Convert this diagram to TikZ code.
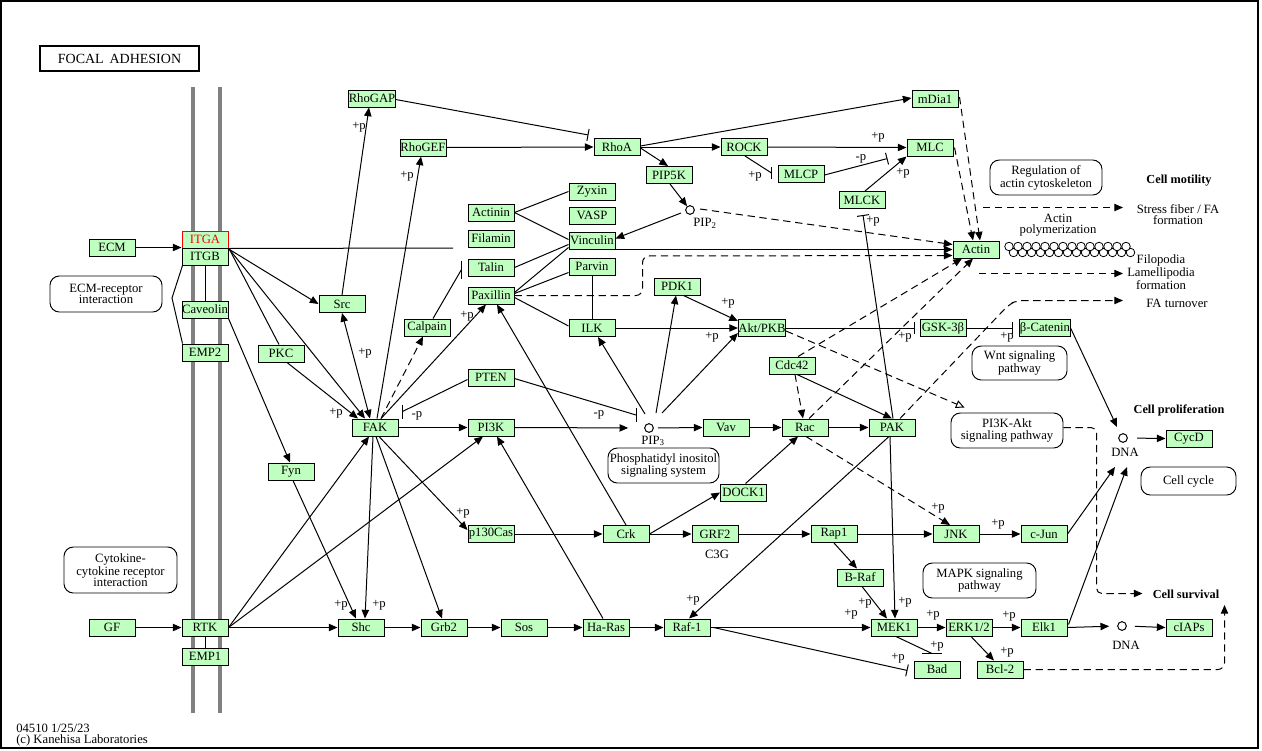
\documentclass[tikz,border=0pt]{standalone}
\usepackage{fontspec}
\setmainfont{Liberation Serif}
\usetikzlibrary{arrows.meta,calc}
\definecolor{kgreen}{RGB}{191,255,191}
\newcommand{\kf}{\fontsize{9.5}{8.4}\selectfont}
\newcommand{\kbf}{\fontsize{9.2}{8.4}\selectfont\bfseries}
\begin{document}
\begin{tikzpicture}[x=0.75pt,y=-0.75pt,
  g/.style={draw, line width=0.75pt, fill=kgreen, minimum width=34.5pt, minimum height=12.75pt, inner sep=0pt, font=\kf},
  pw/.style={draw, line width=0.7pt, rounded corners=7pt, align=center, font=\kf, inner sep=0pt},
  lab/.style={font=\kf, inner sep=0pt, align=center},
  blab/.style={font=\kbf, inner sep=0pt, align=center},
  cir/.style={draw, circle, line width=0.75pt, minimum size=6.5pt, inner sep=0pt},
  ln/.style={line width=0.75pt},
  ar/.style={ln, -{Triangle[length=6.5pt,width=5.5pt]}},
  inh/.style={ln, -{Bar[width=9pt, line width=0.75pt]}},
  barln/.style={line width=0.75pt},
  dsh/.style={dash pattern=on 5.5pt off 3.5pt},
]
\useasboundingbox (0,0) rectangle (1262,750);
\draw[line width=1.2pt] (1,1) rectangle (1258,748);
\node[draw, line width=1.5pt, minimum width=119pt, minimum height=18.5pt, inner sep=0pt, font=\fontsize{10.5}{11}\selectfont] (title) at (119.5,58.5) {FOCAL\, ADHESION};
% membrane
\draw[gray, line width=3pt] (193,87) -- (193,713);
\draw[gray, line width=3pt] (220,87) -- (220,713);

% pathway boxes
\node[pw, minimum width=84pt, minimum height=27pt] (ecmri) at (106,294) {ECM-receptor\\interaction};
\node[pw, minimum width=84.75pt, minimum height=34.5pt] (cyto) at (120.5,570) {Cytokine-\\cytokine receptor\\interaction};
\node[pw, minimum width=83.25pt, minimum height=26.25pt] (pis) at (663.5,465.5) {Phosphatidyl inositol\\signaling system};
\node[pw, minimum width=84pt, minimum height=26.25pt] (rac) at (1046,177.5) {Regulation of\\actin cytoskeleton};
\node[pw, minimum width=71.25pt, minimum height=25.5pt] (wnt) at (1019.5,363) {Wnt signaling\\pathway};
\node[pw, minimum width=84pt, minimum height=26.25pt] (pi3kakt) at (1007,430.5) {PI3K-Akt\\signaling pathway};
\node[pw, minimum width=71.25pt, minimum height=21pt] (ccyc) at (1188.5,481) {Cell cycle};
\node[pw, minimum width=84.75pt, minimum height=26.25pt] (mapk) at (979.5,580.5) {MAPK signaling\\pathway};

% genes
\node[g] (ECM) at (112,247.5) {ECM};
\node[g, draw=red, text=red] (ITGA) at (205,239.5) {ITGA};
\node[g] (ITGB) at (205,256.5) {ITGB};
\node[g] (Caveolin) at (205,309.5) {Caveolin};
\node[g] (EMP2) at (205,352.5) {EMP2};
\node[g] (PKC) at (281,353.5) {PKC};
\node[g] (Fyn) at (291,471.5) {Fyn};
\node[g] (Src) at (342,304) {Src};
\node[g] (RhoGAP) at (372,98.5) {RhoGAP};
\node[g] (RhoGEF) at (423,147.5) {RhoGEF};
\node[g] (Calpain) at (427,327.5) {Calpain};
\node[g] (FAK) at (375,427.5) {FAK};
\node[g] (Actinin) at (491,212.5) {Actinin};
\node[g] (Filamin) at (491,238.5) {Filamin};
\node[g] (Talin) at (491,267.5) {Talin};
\node[g] (Paxillin) at (491,295.5) {Paxillin};
\node[g] (PTEN) at (491,377.5) {PTEN};
\node[g] (PI3K) at (491,427.5) {PI3K};
\node[g] (Zyxin) at (592,191.5) {Zyxin};
\node[g] (VASP) at (592,215.5) {VASP};
\node[g] (Vinculin) at (592,240.5) {Vinculin};
\node[g] (Parvin) at (592,266.5) {Parvin};
\node[g] (ILK) at (592,328) {ILK};
\node[g] (RhoA) at (617,147) {RhoA};
\node[g] (PIP5K) at (669,175) {PIP5K};
\node[cir] (pip2) at (690,210) {};
\node[lab] (pip2l) at (705,223) {PIP\textsubscript{2}};
\node[g] (ROCK) at (744,147) {ROCK};
\node[g] (MLCP) at (801,174) {MLCP};
\node[g] (mDia1) at (935,99) {mDia1};
\node[g] (MLC) at (930,147.5) {MLC};
\node[g] (MLCK) at (862,200) {MLCK};
\node[g] (Actin) at (976,249.5) {Actin};
\node[g] (PDK1) at (677,286.5) {PDK1};
\node[g] (Akt) at (762,328) {Akt/PKB};
\node[g] (GSK) at (943,328) {GSK-3β};
\node[g] (bcat) at (1045,328) {β-Catenin};
\node[g] (Cdc42) at (792,365.5) {Cdc42};
\node[g] (Vav) at (726,427.5) {Vav};
\node[g] (Rac) at (805,427.5) {Rac};
\node[g] (PAK) at (892,427.5) {PAK};
\node[cir] (pip3) at (649,428) {};
\node[lab] (pip3l) at (653,441) {PIP\textsubscript{3}};
\node[g] (DOCK1) at (743.5,492.5) {DOCK1};
\node[g] (p130Cas) at (491,534) {p130Cas};
\node[g] (Crk) at (626,534) {Crk};
\node[g] (GRF2) at (715,534) {GRF2};
\node[lab] (c3g) at (717,554) {C3G};
\node[g] (Rap1) at (834,534) {Rap1};
\node[g] (JNK) at (956,534) {JNK};
\node[g] (cJun) at (1044,534) {c-Jun};
\node[g] (BRaf) at (860,577.5) {B-Raf};
\node[g] (GF) at (112,627.5) {GF};
\node[g] (RTK) at (205,627.5) {RTK};
\node[g] (EMP1) at (205,656.5) {EMP1};
\node[g] (Shc) at (361,627.5) {Shc};
\node[g] (Grb2) at (444,627.5) {Grb2};
\node[g] (Sos) at (524,627.5) {Sos};
\node[g] (HaRas) at (606,627.5) {Ha-Ras};
\node[g] (Raf1) at (687,627.5) {Raf-1};
\node[g] (MEK1) at (894,627.5) {MEK1};
\node[g] (ERK) at (969,627.5) {ERK1/2};
\node[g] (Elk1) at (1044,627.5) {Elk1};
\node[cir] (dna2) at (1122,626) {};
\node[lab] (dna2l) at (1126,645) {DNA};
\node[g] (cIAPs) at (1189,627.5) {cIAPs};
\node[g] (Bad) at (937,669.5) {Bad};
\node[g] (Bcl2) at (1000,669.5) {Bcl-2};
\node[cir] (dna1) at (1123,438) {};
\node[lab] (dna1l) at (1125,452) {DNA};
\node[g] (CycD) at (1189,438.5) {CycD};

% text labels
\node[blab] (cmot) at (1179,181) {Cell motility};
\node[lab] (sfib) at (1178,214.5) {Stress fiber / FA\\formation};
\node[lab] (apol) at (1058,225.5) {Actin\\polymerization};
\node[lab] (filo) at (1161,272) {Filopodia\\Lamellipodia\\formation};
\node[lab] (fat) at (1177,303) {FA turnover};
\node[blab] (cprol) at (1179,410) {Cell proliferation};
\node[blab] (csurv) at (1186,594) {Cell survival};
\node[lab, anchor=west] (ver) at (16,728) {04510 1/25/23};
\node[lab, anchor=west] (copy) at (16,740) {(c) Kanehisa Laboratories};

% actin filament
\foreach \i in {0,...,13} {\draw[line width=0.6pt, fill=white] (1013.5+9*\i,252.5) circle (3.2pt);}
\foreach \i in {0,...,13} {\draw[line width=0.6pt, fill=white] (1009+9*\i,246.5) circle (3.2pt);}

% phosphorylation labels
\node[lab] (p1) at (359,127) {+p};
\node[lab] (p2) at (407,176) {+p};
\node[lab] (p3) at (365,353) {+p};
\node[lab] (p4) at (336,413) {+p};
\node[lab] (p5) at (467,316) {+p};
\node[lab] (p6) at (417,416) {-p};
\node[lab] (p7) at (599,415) {-p};
\node[lab] (p8) at (878,137) {+p};
\node[lab] (p9) at (755,176) {+p};
\node[lab] (p10) at (861,159) {-p};
\node[lab] (p11) at (903,173) {+p};
\node[lab] (p12) at (873,221) {+p};
\node[lab] (p13) at (728,303) {+p};
\node[lab] (p14) at (712,337) {+p};
\node[lab] (p15) at (905,337) {+p};
\node[lab] (p16) at (1007,337) {+p};
\node[lab] (p17) at (463,513) {+p};
\node[lab] (p18) at (341,605) {+p};
\node[lab] (p19) at (379,605) {+p};
\node[lab] (p20) at (693,600) {+p};
\node[lab] (p21) at (865,603) {+p};
\node[lab] (p22) at (851,614) {+p};
\node[lab] (p23) at (905,602) {+p};
\node[lab] (p24) at (933,615) {+p};
\node[lab] (p25) at (1009,616) {+p};
\node[lab] (p26) at (898,658) {+p};
\node[lab] (p27) at (937,646) {+p};
\node[lab] (p28) at (1007,652) {+p};
\node[lab] (p29) at (938,508) {+p};
\node[lab] (p30) at (998,524) {+p};

% helper coordinates
\coordinate (itgbc) at ($(ITGB.north east)+(1,2)$);
\coordinate (itgaend) at (453,248);
\coordinate (brk) at (172,298);
\coordinate (talbar) at ($(Talin.west)+(-6,2)$);
\coordinate (fakbar) at ($(FAK.north east)+(4,-7)$);
\coordinate (pip3bar) at ($(pip3)+(-13,-13)$);
\coordinate (mlcpbar) at ($(MLCP.west)+(-6,-1)$);
\coordinate (badbar) at ($(Bad.north)+(-5,-7)$);
\coordinate (pxc) at (642.5,256);
\coordinate (sf0) at (983,207.5);
\coordinate (sf1) at (1123,207.5);
\coordinate (fl0) at (979,273.5);
\coordinate (fl1) at (1123,273.5);
\coordinate (fa1) at (1010,300.5);
\coordinate (fa2) at (1123,300.5);
\coordinate (cs1) at (1142.5,593.5);
\coordinate (cs2) at (1224.5,605);

% ---- connectors ----
\draw[ar] (ECM.east) -- (ECM.east -| ITGA.west);
\draw[ln] (ITGA.south east) -- (itgaend);
\draw[ln] (ITGB.south) -- (Caveolin.north);
\draw[ln] ($(ITGB.south west)+(1,0)$) -- (brk) -- ($(EMP2.north west)+(1,0)$);
\draw[ar] (itgbc) -- (Src.west);
\draw[ar] (itgbc) -- ($(FAK.north)+(-10,0)$);
\draw[ln] (itgbc) -- ($(PKC.north)+(-2,0)$);
\draw[ar] ($(PKC.south)+(6,0)$) -- ($(FAK.north)+(-17,0)$);
\draw[ln, {Triangle[length=6.5pt,width=5.5pt]}-{Triangle[length=6.5pt,width=5.5pt]}] (Src.south) -- ($(FAK.north)+(-5,0)$);
\draw[ar] (Src.north) -- ($(RhoGAP.south)+(-3,0)$);
\draw[ar] ($(FAK.north)+(2,0)$) -- ($(RhoGEF.south)+(-2,0)$);
\draw[ar, dsh] ($(FAK.north)+(6,0)$) -- ($(Calpain.south)+(-4,0)$);
\draw[ar] ($(FAK.north)+(6,0)$) -- ($(Paxillin.south)+(-5,0)$);
\draw[ln] ($(Calpain.north)+(6,0)$) -- (talbar);
\draw[barln] ($(talbar)+(0,-9)$) -- ($(talbar)+(0,9)$);
\draw[ln] ($(PTEN.west)+(0,2)$) -- (fakbar);
\draw[barln] ($(fakbar)+(0,-7)$) -- ($(fakbar)+(0,7)$);
\draw[ln] ($(PTEN.east)+(0,1)$) -- (pip3bar);
\draw[barln] ($(pip3bar)+(0,-7)$) -- ($(pip3bar)+(0,7)$);
\draw[ar] (FAK.east) -- (PI3K.west);
\draw[ar, shorten >=12pt] (PI3K.east) -- (pip3.west);
\draw[ar, shorten <=3pt] (pip3.east) -- (Vav.west);
\draw[ar] (Vav.east) -- (Rac.west);
\draw[ar] (Rac.east) -- (PAK.west);
\draw[ar] ($(pip3)+(-4,-14)$) -- ($(ILK.south)+(6,0)$);
\draw[ar] ($(pip3)+(7,-15)$) -- ($(PDK1.south)+(-1,0)$);
\draw[ar] ($(pip3)+(13,-15)$) -- ($(Akt.south west)+(0,-4)$);
\draw[ar] ($(PDK1.south east)+(-17,0)$) -- ($(Akt.north west)+(0,2)$);
\draw[ar] (ILK.east) -- (Akt.west);
\draw[inh, shorten >=3.5pt] (Akt.east) -- (GSK.west);
\draw[inh, shorten >=4.5pt] (GSK.east) -- (bcat.west);
\draw[ar] (bcat.east) -- ($(dna1)+(-6,-11)$);
\draw[ar, shorten <=7pt] (dna1.east) -- (CycD.west);
\draw[ln, dsh, -{Triangle[open, length=6.5pt, width=6pt]}] ($(Akt.east)+(0,3)$) -- ($(pi3kakt.north west)+(14,-5)$);
\draw[ar, dsh, rounded corners=4pt] ($(pi3kakt.east)+(0,-3)$) -| ($(cs1)+(-46,0)$) -- (cs1);

% Rho branch
\draw[ar] (RhoGEF.east) -- (RhoA.west);
\draw[inh] ($(RhoGAP.east)+(0,1)$) -- ($(RhoA.north west)+(-5,-3)$);
\draw[ar] (RhoA.east) -- (ROCK.west);
\draw[ar] ($(RhoA.east)+(0,-1)$) -- ($(mDia1.west)+(0,-1)$);
\draw[ar] ($(RhoA.east)+(0,1)$) -- ($(PIP5K.north)+(-1,0)$);
\draw[ar] ($(PIP5K.south)+(1,0)$) -- (pip2);
\draw[ar] ($(pip2)+(-9,3)$) -- ($(Vinculin.east)+(0,-2)$);
\draw[ar, dsh] ($(pip2)+(10,-1)$) -- ($(Actin.west)+(0,-5)$);
\draw[ar] (ROCK.east) -- (MLC.west);
\draw[ln] ($(ROCK.south)+(1,0)$) -- (mlcpbar);
\draw[barln] ($(mlcpbar)+(0,-6)$) -- ($(mlcpbar)+(0,6)$);
\draw[inh] ($(MLCP.east)+(0,1)$) -- ($(MLC.south west)+(-19,2)$);
\draw[ar] ($(MLCK.north)+(3,0)$) -- (MLC.south west);
\draw[inh] ($(PAK.north)+(1,0)$) -- ($(MLCK.south)+(1,6)$);
\draw[ar, dsh] ($(mDia1.east)+(1,-2)$) -- ($(Actin.north)+(4,0)$);
\draw[ar, dsh] ($(MLC.east)+(1,0)$) -- ($(Actin.north)+(-3,0)$);
\draw[ar] (Vinculin.south east) -- (Actin.west);
\draw[ar, dsh, rounded corners=5pt] (Paxillin.east) -| (pxc) -- ($(Actin.west)+(0,6)$);

% adhesion complex
\draw[ln] (Actinin.east) -- (Zyxin.west);
\draw[ln] (Actinin.east) -- ($(Vinculin.west)+(0,-1)$);
\draw[ln] (Talin.east) -- ($(Vinculin.south west)+(0,-5)$);
\draw[ln] ($(Paxillin.east)+(0,-3)$) -- ($(Vinculin.south west)+(0,-2)$);
\draw[ln] ($(Paxillin.east)+(0,-2)$) -- ($(Parvin.south west)+(0,-3)$);
\draw[ln] ($(Paxillin.east)+(0,2)$) -- ($(ILK.west)+(0,-2)$);
\draw[ln] (Parvin.south) -- (ILK.north);

% small GTPases
\draw[ar, dsh] ($(Cdc42.south)+(3,0)$) -- ($(Rac.north)+(-2,0)$);
\draw[ar] ($(Cdc42.south)+(5,0)$) -- (PAK.north);
\draw[ar, dsh] ($(Cdc42.north)+(6,0)$) -- ($(Actin.south)+(-14,0)$);
\draw[ar, dsh] ($(Rac.north)+(4,0)$) -- ($(Actin.south)+(-3,0)$);
\draw[ar, dsh, rounded corners=5pt] ($(PAK.north)+(8,0)$) -- ($(fa1)+(0,3)$) -- ($(fa1)+(8,0)$) -- (fa2);
\draw[ar] ($(DOCK1.north)+(2,0)$) -- ($(Rac.south)+(-7,0)$);
\draw[ar] (Crk.east) -- (DOCK1.west);
\draw[ar] (Crk.east) -- (GRF2.west);
\draw[ar] (GRF2.east) -- (Rap1.west);
\draw[ar] (Rap1.east) -- (JNK.west);
\draw[ar] (p130Cas.east) -- (Crk.west);
\draw[ar] (Crk.north) -- ($(Paxillin.south)+(6,0)$);
\draw[ar] ($(HaRas.north)+(-3,0)$) -- ($(PI3K.south)+(6,0)$);
\draw[ar, dsh] ($(Rac.south)+(1,0)$) -- ($(JNK.north)+(-6,0)$);
\draw[ar] (JNK.east) -- (cJun.west);

% receptor tyrosine kinase
\draw[ar] (GF.east) -- (RTK.west);
\draw[ln] (RTK.south) -- (EMP1.north);
\draw[ar] (RTK.east) -- ($(PI3K.south)+(-8,0)$);
\draw[ar] (RTK.east) -- ($(FAK.south)+(-6,0)$);
\draw[ar] (RTK.east) -- (Shc.west);
\draw[ar] (Caveolin.south east) -- ($(Fyn.north)+(-1,0)$);
\draw[ar] ($(Fyn.south)+(2,0)$) -- ($(Shc.north)+(-5,0)$);
\draw[ar] ($(FAK.south)+(-2,0)$) -- ($(Shc.north)+(4,0)$);
\draw[ar] ($(FAK.south)+(1,0)$) -- ($(Grb2.north)+(-2,0)$);
\draw[ar] ($(FAK.south)+(4,0)$) -- ($(p130Cas.west)+(0,-4)$);
\draw[ar] (Shc.east) -- (Grb2.west);
\draw[ar] (Grb2.east) -- (Sos.west);
\draw[ar] (Sos.east) -- (HaRas.west);
\draw[ar] (HaRas.east) -- (Raf1.west);
\draw[ar] (Raf1.east) -- (MEK1.west);
\draw[ar] ($(PAK.south)+(-3,0)$) -- ($(Raf1.north)+(2,0)$);
\draw[ar] ($(PAK.south)+(-2,0)$) -- ($(MEK1.north)+(1,0)$);
\draw[ar] (Rap1.south) -- ($(BRaf.north)+(-3,0)$);
\draw[ar] ($(BRaf.south)+(2,0)$) -- ($(MEK1.north)+(-7,0)$);
\draw[ar] (MEK1.east) -- (ERK.west);
\draw[ar] (ERK.east) -- (Elk1.west);
\draw[ar, shorten >=6pt] (Elk1.east) -- (dna2.west);
\draw[ar, shorten <=6pt] (dna2.east) -- (cIAPs.west);
\draw[ar] ($(Elk1.east)+(1,-3)$) -- ($(dna1)+(4,29)$);
\draw[ar] (cJun.east) -- ($(dna1)+(-8,29)$);
\draw[ar] ($(ERK.south)+(2,0)$) -- ($(Bcl2.north)+(-6,0)$);
\draw[inh] ($(Raf1.east)+(3,0)$) -- ($(Bad.west)+(-6,1)$);
\draw[ln] ($(MEK1.south)+(2,0)$) -- (badbar);
\draw[barln] ($(badbar)+(-10,0)$) -- ($(badbar)+(10,0)$);
\draw[ar, dsh, rounded corners=5pt] (Bcl2.east) -| (cs2);

% phenotype arrows
\draw[ar, dsh] (sf0) -- (sf1);
\draw[ar, dsh] (fl0) -- (fl1);
\end{tikzpicture}
\end{document}
